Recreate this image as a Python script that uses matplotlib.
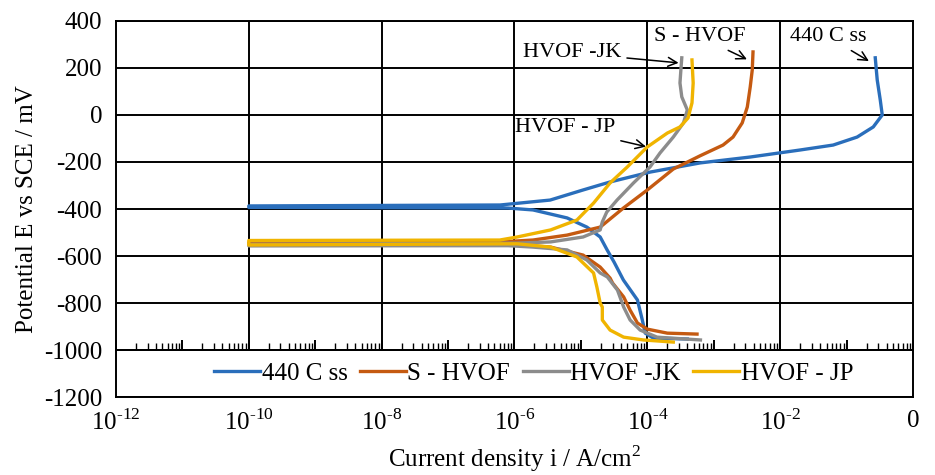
import numpy as np
import matplotlib
matplotlib.use("Agg")
from matplotlib import pyplot as plt
import matplotlib.ticker as mticker

plt.rcParams['font.family'] = 'Liberation Serif'
plt.rcParams['mathtext.fontset'] = 'custom'
plt.rcParams['mathtext.rm'] = 'Liberation Serif'
plt.rcParams['axes.unicode_minus'] = False

# polarization curves (current A/cm2, potential mV)
i_440 = [4.0e-4, 1.23e-4, 9.3e-5, 8.4e-5, 7.1e-5, 4.36e-5, 3.16e-5, 2.48e-5, 1.95e-5,
         1.23e-5, 6.2e-6, 1.9e-6, 8e-7, 1e-10, 1e-10, 6.07e-7, 3.44e-6, 1.08e-5,
         2.75e-5, 1.1e-4, 6.24e-4, 3.53e-3, 2.0e-2, 6.28e-2, 0.144, 0.252, 0.344,
         0.321, 0.289, 0.270]
e_440 = [-953, -949, -928, -872, -787, -702, -626, -574, -519,
         -477, -438, -404, -396, -393, -387, -383, -362, -319,
         -285, -243, -204, -179, -149, -128, -94, -51, 0,
         64, 149, 243]

i_shvof = [5.6e-4, 2.0e-4, 1.0e-4, 7.1e-5, 5.5e-5, 4.4e-5, 3.0e-5, 2.75e-5, 1.95e-5,
           1.08e-5, 3.5e-6, 8e-7, 1e-10, 1e-10, 6e-7, 1.9e-6, 6.2e-6, 1.95e-5,
           4.36e-5, 1.0e-4, 2.46e-4, 6.2e-4, 1.38e-3, 1.95e-3, 2.68e-3, 3.2e-3,
           3.54e-3, 3.8e-3, 3.9e-3]
e_shvof = [-932, -928, -911, -885, -830, -774, -715, -694, -647,
           -596, -562, -550, -549, -543, -540, -532, -511, -477,
           -396, -319, -230, -174, -128, -94, -34, 34,
           119, 192, 268]

i_jk = [6.3e-4, 1.4e-4, 7.8e-5, 5.5e-5, 4.4e-5, 3.55e-5, 2.5e-5, 1.95e-5, 1.23e-5,
        6.2e-6, 1.9e-6, 8e-7, 1e-10, 1e-10, 1.1e-6, 3.5e-6, 1.08e-5, 1.95e-5,
        2.1e-5, 2.45e-5, 3.5e-5, 6.2e-5, 1.1e-4, 1.55e-4, 2.46e-4, 3.5e-4, 4.0e-4,
        3.3e-4, 3.1e-4, 3.2e-4, 3.3e-4]
e_jk = [-957, -945, -915, -872, -817, -745, -689, -672, -617,
        -574, -562, -556, -557, -550, -545, -540, -519, -489,
        -455, -413, -362, -289, -221, -162, -94, -34, 21,
        77, 136, 192, 243]

i_jp = [2.46e-4, 8.7e-5, 4.4e-5, 2.75e-5, 2.1e-5, 2.1e-5, 1.95e-5, 1.74e-5, 1.55e-5,
        8.7e-6, 3.5e-6, 1.1e-6, 1e-10, 1e-10, 6e-7, 1.1e-6, 3.5e-6, 8.7e-6, 1.55e-5,
        2.75e-5, 5e-5, 1e-4, 2e-4, 3.1e-4, 4.1e-4, 4.7e-4, 4.9e-4, 4.7e-4]
e_jp = [-966, -957, -945, -915, -872, -817, -800, -732, -672,
        -604, -562, -548, -553, -534, -532, -519, -489, -447, -375,
        -289, -221, -136, -77, -51, -13, 51, 136, 234]

labels = ['440 C ss', 'S - HVOF', 'HVOF -JK', 'HVOF - JP']
colors = ['#2A6EBB', '#C55A11', '#8C8C8C', '#F0B400']

xticks = [1e-12, 1e-10, 1e-8, 1e-6, 1e-4, 1e-2, 1]
xticklabels = ['$10^{\\text{-12}}$', '$10^{\\text{-10}}$', '$10^{\\text{-8}}$',
               '$10^{\\text{-6}}$', '$10^{\\text{-4}}$', '$10^{\\text{-2}}$', '0']

fig, ax = plt.subplots(figsize=(9.35, 4.75), dpi=100)
fig.subplots_adjust(left=0.124, right=0.9765, top=0.956, bottom=0.164)

for x, y, lab, c in zip([i_440, i_shvof, i_jk, i_jp], [e_440, e_shvof, e_jk, e_jp],
                        labels, colors):
    ax.plot(x, y, color=c, lw=2.4, label=lab, solid_joinstyle='round', zorder=3)

ax.set_xscale('log')
ax.set_xlim(1e-12, 1)
ax.set_ylim(-1200, 400)
ax.set_yticks(np.arange(-1200, 401, 200))
ax.set_xticks(xticks)
ax.set_xticklabels(xticklabels)
ax.xaxis.set_minor_locator(mticker.NullLocator())
ax.tick_params(length=0, labelsize=18)
ax.tick_params(axis='y', pad=10)
ax.tick_params(axis='x', pad=9)
ax.grid(True, axis='y', color='black', lw=1.4)
for t in xticks[1:-1]:
    ax.axvline(t, ymin=0.125, color='black', lw=1.4, zorder=0.5)
for s in ax.spines.values():
    s.set_linewidth(1.4)

# axis line with log ticks at -1000
sec = ax.secondary_xaxis(0.125)
sec.xaxis.set_major_locator(mticker.LogLocator(base=10, numticks=30))
sec.xaxis.set_minor_locator(mticker.LogLocator(base=10, subs=np.arange(2, 10), numticks=30))
sec.xaxis.set_major_formatter(mticker.NullFormatter())
sec.xaxis.set_minor_formatter(mticker.NullFormatter())
sec.tick_params(which='major', direction='in', length=7, width=1.4)
sec.tick_params(which='minor', direction='in', length=5, width=1.0)
for s in sec.spines.values():
    s.set_linewidth(1.4)

ax.set_xlabel('Current density i / A/cm$^2$', fontsize=18, labelpad=6)
ax.set_ylabel('Potential E vs SCE / mV', fontsize=18, labelpad=4)

arrow = dict(arrowstyle='->', color='black', lw=1.1, shrinkA=2, shrinkB=1)
ax.annotate('HVOF -JK', xy=(3.1e-4, 221), xytext=(7.4e-6, 264), fontsize=16,
            ha='center', va='center', arrowprops=arrow)
ax.annotate('S - HVOF', xy=(3.3e-3, 234), xytext=(6.2e-4, 332), fontsize=16,
            ha='center', va='center', arrowprops=arrow)
ax.annotate('440 C ss', xy=(0.226, 226), xytext=(5.3e-2, 332), fontsize=16,
            ha='center', va='center', arrowprops=arrow)
ax.annotate('HVOF - JP', xy=(1.0e-4, -136), xytext=(5.8e-6, -55), fontsize=16,
            ha='center', va='center', arrowprops=arrow)

ax.legend(loc='center', bbox_to_anchor=(0.524, 0.0625), ncol=4, frameon=False,
          fontsize=18, handlelength=1.85, handletextpad=0.05, columnspacing=0.5,
          borderpad=0)

fig.savefig('out.png', dpi=100)
